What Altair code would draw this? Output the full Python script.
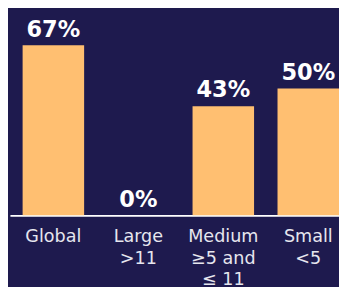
import altair as alt
import pandas as pd

categories = ["Global", "Large\n>11", "Medium\n≥5 and\n≤ 11", "Small\n<5"]
values = [67, 0, 43, 50]
value_labels = ["67%", "0%", "43%", "50%"]

df = pd.DataFrame({"cat": categories, "val": values, "lbl": value_labels})

BG = "#1e1a4e"
BAR = "#ffbf71"

x = alt.X(
    "cat:N",
    sort=categories,
    scale=alt.Scale(range=[2, 352], paddingInner=0.276, paddingOuter=0.149),
    axis=alt.Axis(
        title=None,
        ticks=False,
        tickSize=0,
        labelAngle=0,
        labelPadding=13,
        labelFont="DejaVu Sans",
        labelFontSize=18,
        labelColor="#e6e6ee",
        labelLineHeight=22,
        labelOverlap=False,
        labelExpr="split(datum.label, '\\n')",
        domainColor="#ffffff",
        domainWidth=1.6,
        grid=False,
    ),
)
y = alt.Y("val:Q", scale=alt.Scale(domain=[0, 80.4], nice=False), axis=None)

bars = alt.Chart(df).mark_bar(color=BAR).encode(x=x, y=y)
text = alt.Chart(df).mark_text(
    font="DejaVu Sans", fontWeight="bold", fontSize=23, color="#ffffff",
    baseline="alphabetic", dy=-9
).encode(x=alt.X("cat:N", sort=categories), y="val:Q", text="lbl:N")

chart = (
    alt.layer(bars, text)
    .properties(
        width=339,
        height=209,
        background=BG,
        padding={"left": 0, "top": 0, "right": 0, "bottom": 70},
        autosize=alt.AutoSizeParams(type="none"),
    )
    .configure_view(stroke=None)
)

chart.save("out.html", embed_options={"renderer": "svg", "actions": False})
